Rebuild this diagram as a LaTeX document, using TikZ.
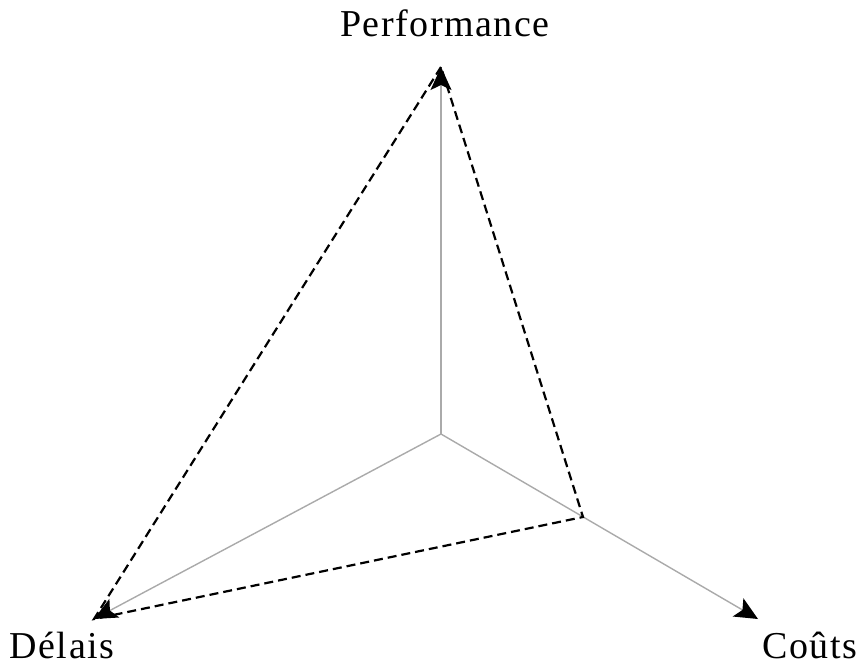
\documentclass[tikz,border=0pt]{standalone}
\usepackage{fontspec}
\setmainfont{Liberation Serif}[LetterSpace=4]
\usepackage{tikz}
\usetikzlibrary{arrows.meta}
\definecolor{axisgray}{RGB}{170,170,170}

\begin{document}
\begin{tikzpicture}[
  x=1pt,y=-1pt,
  axis/.style={draw=axisgray,line width=1.4pt,-{Stealth[black,length=23pt,width=21pt,inset=5pt]}},
  goal/.style={draw=black,line width=2.2pt,dash pattern=on 9pt off 5pt},
  crit/.style={anchor=base,inner sep=0pt,font=\fontsize{38}{44}\selectfont}
]
  \useasboundingbox (0,0) rectangle (862,669);
  \coordinate (o) at (441,434);
  \coordinate (perf) at (441,67);
  \coordinate (del) at (94,619);
  \coordinate (cout) at (758,619);
  \coordinate (c1) at (583,517);

  \draw[axis] (o) -- (perf);
  \draw[axis] (o) -- (del);
  \draw[axis] (o) -- (cout);

  % triangle des objectifs
  \draw[goal] (perf) -- (del) -- (c1) -- cycle;

  \node[crit] (lperf) at (445,37) {Performance};
  \node[crit] (ldel) at (62,658) {Délais};
  \node[crit] (lcout) at (810,658) {Coûts};
\end{tikzpicture}
\end{document}
